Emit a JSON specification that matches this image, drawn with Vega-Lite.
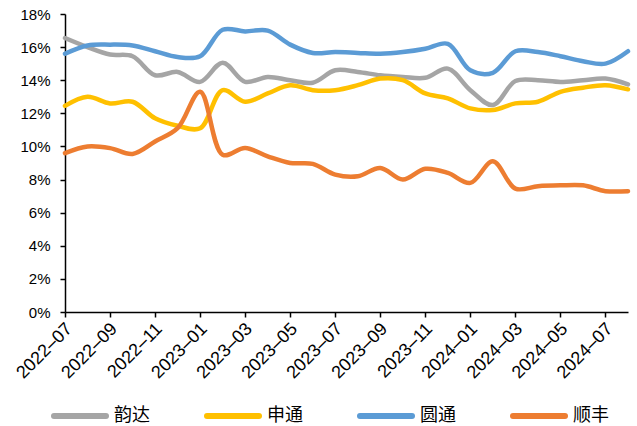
{
  "$schema": "https://vega.github.io/schema/vega-lite/v6.json",
  "width": 563,
  "height": 298,
  "autosize": {"type": "none"},
  "padding": {"left": 65, "top": 14, "right": 9, "bottom": 114},
  "background": "white",
  "config": {
    "view": {"stroke": null},
    "axis": {
      "grid": false,
      "labelFont": "Liberation Sans",
      "labelColor": "#000",
      "domainColor": "#000",
      "tickColor": "#000",
      "domainWidth": 1.5,
      "tickWidth": 1.5
    }
  },
  "data": {
    "values": [
      {"month": "2022-07", "韵达": 16.55, "申通": 12.45, "圆通": 15.6, "顺丰": 9.6},
      {"month": "2022-08", "韵达": 16.0, "申通": 13.0, "圆通": 16.1, "顺丰": 10.0},
      {"month": "2022-09", "韵达": 15.55, "申通": 12.6, "圆通": 16.15, "顺丰": 9.9},
      {"month": "2022-10", "韵达": 15.45, "申通": 12.7, "圆通": 16.1, "顺丰": 9.55},
      {"month": "2022-11", "韵达": 14.3, "申通": 11.7, "圆通": 15.75, "顺丰": 10.3},
      {"month": "2022-12", "韵达": 14.5, "申通": 11.25, "圆通": 15.4, "顺丰": 11.1},
      {"month": "2023-01", "韵达": 13.9, "申通": 11.1, "圆通": 15.45, "顺丰": 13.3},
      {"month": "2023-02", "韵达": 15.05, "申通": 13.4, "圆通": 17.05, "顺丰": 9.5},
      {"month": "2023-03", "韵达": 13.9, "申通": 12.7, "圆通": 16.95, "顺丰": 9.9},
      {"month": "2023-04", "韵达": 14.2, "申通": 13.2, "圆通": 17.0, "顺丰": 9.4},
      {"month": "2023-05", "韵达": 14.0, "申通": 13.7, "圆通": 16.15, "顺丰": 9.0},
      {"month": "2023-06", "韵达": 13.85, "申通": 13.4, "圆通": 15.65, "顺丰": 8.95},
      {"month": "2023-07", "韵达": 14.6, "申通": 13.4, "圆通": 15.7, "顺丰": 8.3},
      {"month": "2023-08", "韵达": 14.5, "申通": 13.7, "圆通": 15.65, "顺丰": 8.2},
      {"month": "2023-09", "韵达": 14.3, "申通": 14.1, "圆通": 15.6, "顺丰": 8.7},
      {"month": "2023-10", "韵达": 14.2, "申通": 14.0, "圆通": 15.7, "顺丰": 8.0},
      {"month": "2023-11", "韵达": 14.15, "申通": 13.2, "圆通": 15.9, "顺丰": 8.65},
      {"month": "2023-12", "韵达": 14.7, "申通": 12.9, "圆通": 16.2, "顺丰": 8.4},
      {"month": "2024-01", "韵达": 13.4, "申通": 12.3, "圆通": 14.6, "顺丰": 7.8},
      {"month": "2024-02", "韵达": 12.5, "申通": 12.2, "圆通": 14.45, "顺丰": 9.1},
      {"month": "2024-03", "韵达": 13.95, "申通": 12.6, "圆通": 15.75, "顺丰": 7.45},
      {"month": "2024-04", "韵达": 14.0, "申通": 12.7, "圆通": 15.7, "顺丰": 7.6},
      {"month": "2024-05", "韵达": 13.9, "申通": 13.3, "圆通": 15.45, "顺丰": 7.65},
      {"month": "2024-06", "韵达": 14.0, "申通": 13.55, "圆通": 15.15, "顺丰": 7.65},
      {"month": "2024-07", "韵达": 14.1, "申通": 13.7, "圆通": 15.0, "顺丰": 7.3},
      {"month": "2024-08", "韵达": 13.75, "申通": 13.45, "圆通": 15.75, "顺丰": 7.3}
    ]
  },
  "transform": [
    {"fold": ["韵达", "申通", "圆通", "顺丰"], "as": ["company", "value"]}
  ],
  "mark": {"type": "line", "interpolate": "catmull-rom", "strokeWidth": 4.5, "strokeCap": "round", "strokeJoin": "round"},
  "encoding": {
    "x": {
      "field": "month",
      "type": "ordinal",
      "sort": null,
      "scale": {"type": "point", "padding": 0},
      "axis": {
        "title": null,
        "values": ["2022-07", "2022-09", "2022-11", "2023-01", "2023-03", "2023-05", "2023-07", "2023-09", "2023-11", "2024-01", "2024-03", "2024-05", "2024-07"],
        "labelAngle": -45,
        "labelAlign": "right",
        "labelBaseline": "middle",
        "labelFontSize": 18,
        "tickSize": 5,
        "labelPadding": 9,
        "labelOffset": 4,
        "labelExpr": "replace(datum.label, '-', '–')"
      }
    },
    "y": {
      "field": "value",
      "type": "quantitative",
      "scale": {"domain": [0, 18], "nice": false},
      "axis": {
        "title": null,
        "values": [0, 2, 4, 6, 8, 10, 12, 14, 16, 18],
        "labelExpr": "datum.value + '%'",
        "labelFontSize": 15,
        "tickSize": 5,
        "labelPadding": 10
      }
    },
    "color": {
      "field": "company",
      "type": "nominal",
      "sort": null,
      "scale": {"domain": ["韵达", "申通", "圆通", "顺丰"], "range": ["#A5A5A5", "#FFC000", "#5B9BD5", "#ED7D31"]},
      "legend": {
        "orient": "none",
        "legendX": -14,
        "legendY": 373,
        "direction": "horizontal",
        "title": null,
        "symbolType": "stroke",
        "symbolSize": 2704,
        "symbolStrokeWidth": 6,
        "labelFont": "Noto Sans CJK SC",
        "labelFontSize": 18,
        "labelColor": "#000",
        "columnPadding": 45,
        "labelOffset": 5,
        "encode": {"symbols": {"update": {"strokeCap": {"value": "round"}}}}
      }
    }
  }
}
